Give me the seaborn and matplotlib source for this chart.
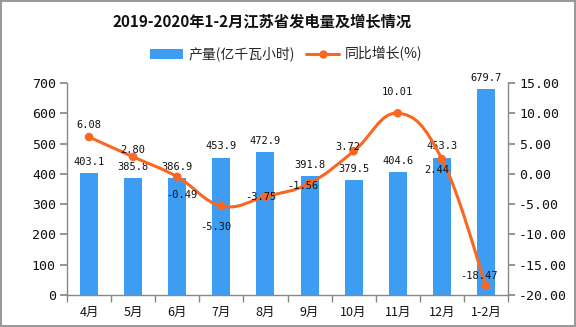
import numpy as np
import pandas as pd
import matplotlib
matplotlib.use("Agg")
import matplotlib.pyplot as plt
from matplotlib.path import Path
from matplotlib.patches import PathPatch
from matplotlib.lines import Line2D
from matplotlib.patches import Patch
import seaborn as sns

months = ["4月", "5月", "6月", "7月", "8月", "9月", "10月", "11月", "12月", "1-2月"]
output = [403.1, 385.8, 386.9, 453.9, 472.9, 391.8, 379.5, 404.6, 453.3, 679.7]
growth = [6.08, 2.80, -0.49, -5.30, -3.75, -1.56, 3.72, 10.01, 2.44, -18.47]
left_ticks = [0, 100, 200, 300, 400, 500, 600, 700]
right_ticks = [-20, -15, -10, -5, 0, 5, 10, 15]

# label offsets (points) for the growth labels
growth_label_dy = [9, 5, -13, -15, 0, -2, 3, 15, -8, 7]
growth_label_dx = [0, 0, 3, -4, -3, -5, -4, 0, -4, -5]

BAR = "#3d9df2"
LINE = "#fa6721"
MONO = ["DejaVu Sans Mono", "Noto Sans CJK SC"]

sns.set_theme(style="white")
plt.rcParams["font.family"] = ["Noto Sans CJK SC", "DejaVu Sans"]
plt.rcParams["axes.unicode_minus"] = False

fig = plt.figure(figsize=(5.76, 3.27), dpi=100)
fig.patch.set_edgecolor("#999999")
fig.patch.set_linewidth(1.5)
ax = fig.add_axes([67 / 576, 1 - 295 / 327, 441 / 576, 212 / 327])

df = pd.DataFrame({"month": months, "output": output})
sns.barplot(data=df, x="month", y="output", color=BAR, width=0.41,
            saturation=1, ax=ax, edgecolor="none")
ax.set_xlim(-0.5, len(months) - 0.5)
ax.set_ylim(0, 700)
ax.set_yticks(left_ticks)
ax.set_yticklabels([str(t) for t in left_ticks], family=MONO)
ax.set_xlabel("")
ax.set_ylabel("")

for i, v in enumerate(output):
    ax.annotate(f"{v:.1f}", (i, v), xytext=(0, 4.5), textcoords="offset points",
                ha="center", va="bottom", fontsize=7.5, color="#111111",
                family=MONO)

ax2 = ax.twinx()
ax2.set_ylim(-20, 15)
ax2.set_yticks(right_ticks)
ax2.set_yticklabels([f"{t:.2f}" for t in right_ticks], family=MONO)

# smooth curve through the growth points using cubic Bezier segments
x = np.arange(len(growth), dtype=float)
y = np.array(growth, dtype=float)
k = 0.2
verts = [(x[0], y[0])]
codes = [Path.MOVETO]
n = len(x)
for i in range(n - 1):
    p0 = np.array([x[max(i - 1, 0)], y[max(i - 1, 0)]])
    p1 = np.array([x[i], y[i]])
    p2 = np.array([x[i + 1], y[i + 1]])
    p3 = np.array([x[min(i + 2, n - 1)], y[min(i + 2, n - 1)]])
    c1 = p1 + (p2 - p0) * k
    c2 = p2 - (p3 - p1) * k
    verts += [tuple(c1), tuple(c2), tuple(p2)]
    codes += [Path.CURVE4] * 3
ax2.add_patch(PathPatch(Path(verts, codes), facecolor="none", edgecolor=LINE,
                        linewidth=2.2, zorder=3))
sns.scatterplot(x=x, y=y, color=LINE, s=38, edgecolor="none", ax=ax2,
                zorder=4, legend=False)

for i, v in enumerate(growth):
    ax2.annotate(f"{v:.2f}", (i, v),
                 xytext=(growth_label_dx[i], growth_label_dy[i]),
                 textcoords="offset points", ha="center", va="center",
                 fontsize=7.5, color="#111111", zorder=5, family=MONO)

for a in (ax, ax2):
    for s in a.spines.values():
        s.set_visible(False)
ax.spines["left"].set_visible(True)
ax.spines["bottom"].set_visible(True)
ax2.spines["right"].set_visible(True)
for s in (ax.spines["left"], ax.spines["bottom"], ax2.spines["right"]):
    s.set_color("#888888")
    s.set_linewidth(1)

ax.set_xticks(np.arange(-0.5, len(months), 1.0), minor=True)
ax.tick_params(axis="x", which="major", length=0, labelsize=9, pad=8,
               colors="#111111")
ax.tick_params(axis="x", which="minor", length=5, color="#888888",
               direction="out", bottom=True)
ax.tick_params(axis="y", length=5, color="#888888", direction="out",
               left=True, labelsize=9.5, colors="#111111", pad=3)
ax2.tick_params(axis="y", length=5, color="#888888", direction="out",
                right=True, labelsize=9.5, colors="#111111", pad=3)
ax.grid(False)
ax2.grid(False)

fig.text(262 / 576, 1 - 21 / 327, "2019-2020年1-2月江苏省发电量及增长情况",
         ha="center", va="center", fontsize=11, fontweight="bold",
         color="#111111")

handles = [Patch(facecolor=BAR, edgecolor="none"),
           Line2D([0], [0], color=LINE, lw=2.2, marker="o", markersize=5)]
fig.legend(handles, ["产量(亿千瓦小时)", "同比增长(%)"], loc="center",
           bbox_to_anchor=(286 / 576, 1 - 54 / 327), ncol=2, frameon=False,
           fontsize=10, handlelength=2.4, handleheight=0.7,
           columnspacing=0.8, handletextpad=0.4)

fig.savefig("out.png", dpi=100)
